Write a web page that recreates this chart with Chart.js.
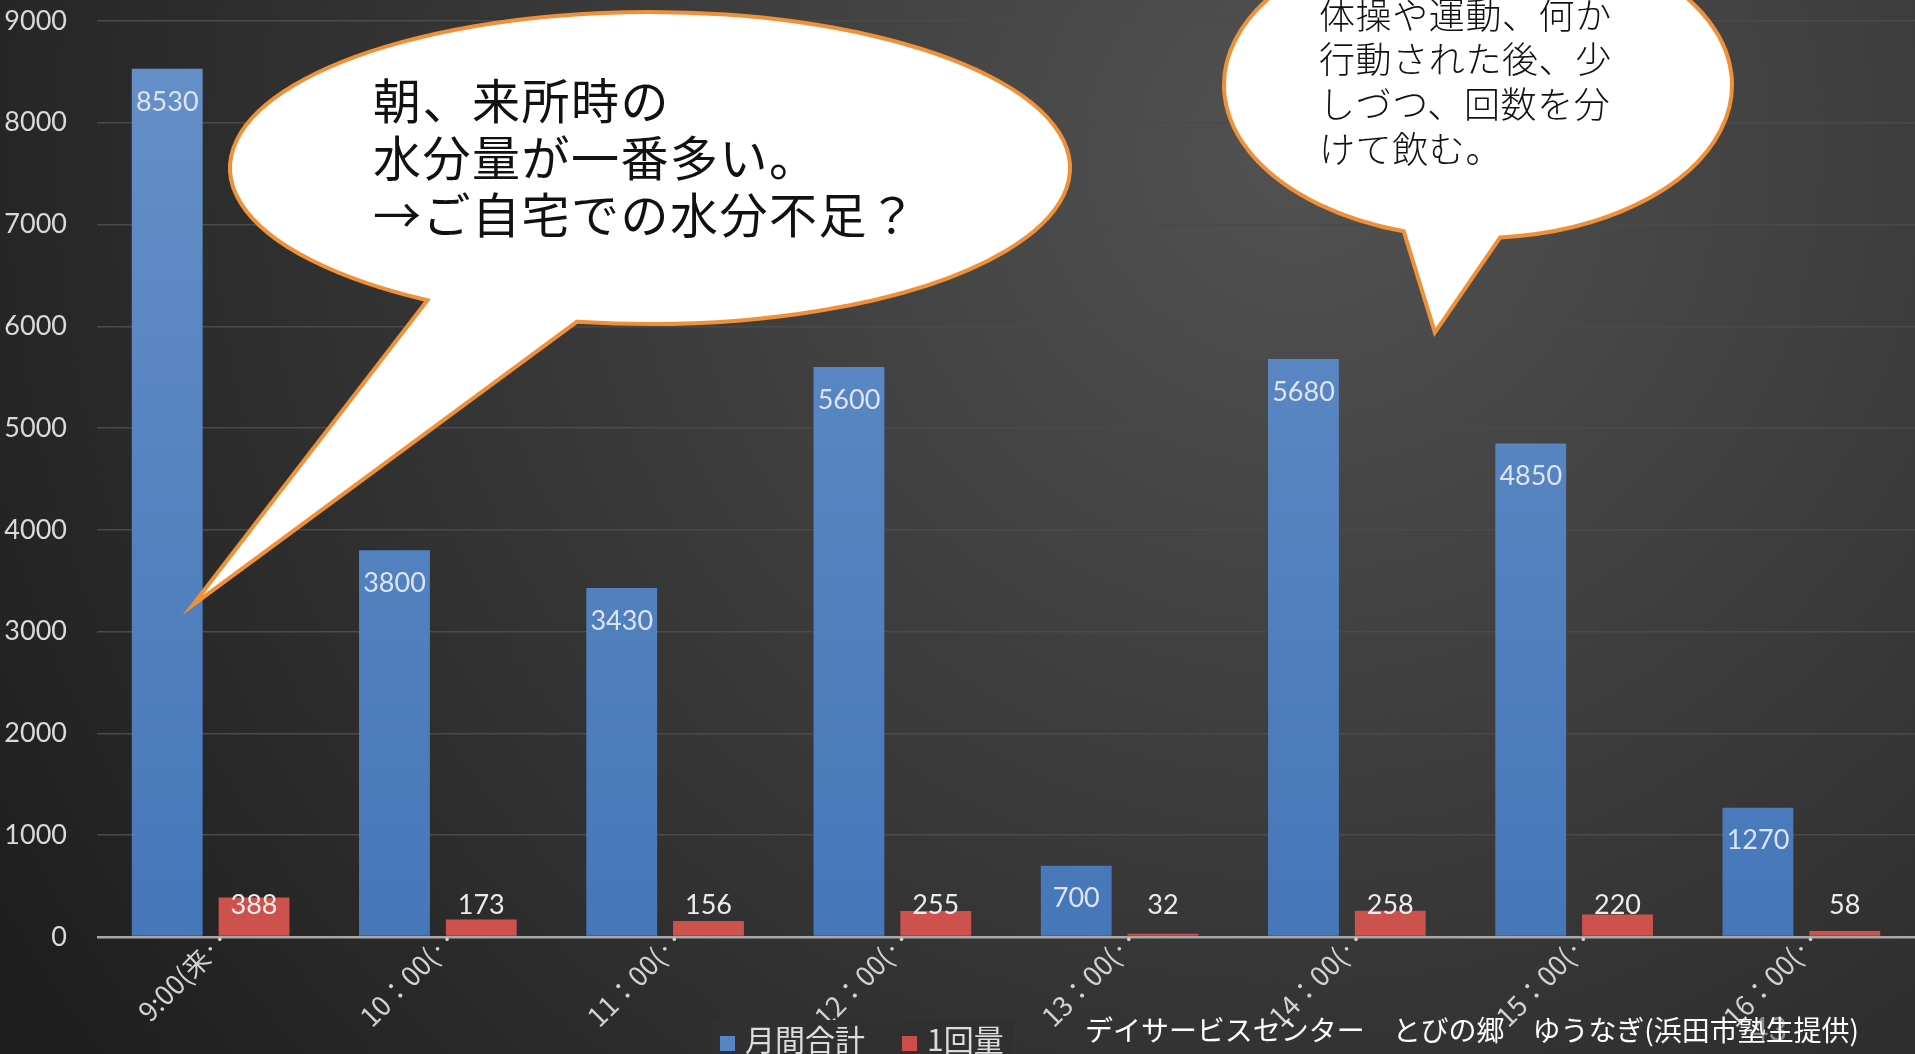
<!DOCTYPE html>
<html lang="ja">
<head>
<meta charset="UTF-8">
<title>水分量</title>
<script src="https://cdn.jsdelivr.net/npm/chart.js"></script>
<style>
    * { margin: 0; padding: 0; box-sizing: border-box; }
    body { background: #2a2a2a; width: 1915px; height: 1054px; overflow: hidden; }
    canvas { display: block; }
</style>
</head>
<body>
<canvas id="graphique" width="1915" height="1054"></canvas>
<script>
// données
const categories = ['9:00(来‥', '10：00(‥', '11：00(‥', '12：00(‥', '13：00(‥', '14：00(‥', '15：00(‥', '16：00(‥'];
const monthlyTotal = [8530, 3800, 3430, 5600, 700, 5680, 4850, 1270];
const perServing = [388, 173, 156, 255, 32, 258, 220, 58];
const seriesNames = ['月間合計', '1回量'];
const yMax = 9000;
const yStep = 1000;

const callouts = [
    { cat: 0, dx: -18, val: 3260, cx: 650, cy: 168, rx: 420, ry: 156, a1: 100, a2: 122,
      size: 48, weight: 400, spacing: 1.5, left: 373, top: 101, lh: 57,
      lines: ['朝、来所時の', '水分量が一番多い。', '→ご自宅での水分不足？'] },
    { cat: 5, dx: 88, val: 5940, cx: 1478, cy: 85, rx: 254, ry: 153, a1: 85, a2: 107,
      size: 36, weight: 300, spacing: 0.6, left: 1319, top: 15, lh: 44.8,
      lines: ['体操や運動、何か', '行動された後、少', 'しづつ、回数を分', 'けて飲む。'] }
];
const footerText = 'デイサービスセンター　とびの郷　ゆうなぎ(浜田市塾生提供)';

// fond dégradé
const fondPlugin = {
    id: 'fond',
    beforeDraw(chart) {
        const ctx = chart.ctx;
        const g = ctx.createRadialGradient(1300, 150, 0, 1300, 150, 1500);
        g.addColorStop(0, '#525252');
        g.addColorStop(1, '#1f1f1f');
        ctx.save();
        ctx.fillStyle = g;
        ctx.fillRect(0, 0, chart.width, chart.height);
        ctx.restore();
    }
};

// étiquettes de valeurs
const etiquettesPlugin = {
    id: 'etiquettes',
    afterDatasetsDraw(chart) {
        const ctx = chart.ctx;
        ctx.save();
        ctx.font = '27px Lato';
        ctx.textAlign = 'center';
        ctx.textBaseline = 'middle';
        chart.data.datasets.forEach((ds, i) => {
            const meta = chart.getDatasetMeta(i);
            meta.data.forEach((bar, j) => {
                const y = Math.min(bar.y + 33, bar.base - 30);
                ctx.fillStyle = i === 0 ? '#dde4ef' : '#ececec';
                ctx.fillText(String(ds.data[j]), bar.x, y);
            });
        });
        ctx.restore();
    }
};

function drawBubble(ctx, chart, b) {
    const tx = chart.scales.x.getPixelForValue(b.cat) + b.dx;
    const ty = chart.scales.y.getPixelForValue(b.val);
    const t1 = b.a1 * Math.PI / 180, t2 = b.a2 * Math.PI / 180;
    ctx.beginPath();
    ctx.ellipse(b.cx, b.cy, b.rx, b.ry, 0, t2, t1 + 2 * Math.PI);
    ctx.lineTo(tx, ty);
    ctx.closePath();
    ctx.fillStyle = '#ffffff';
    ctx.fill();
    ctx.lineWidth = 4;
    ctx.strokeStyle = '#f0913a';
    ctx.lineJoin = 'miter';
    ctx.stroke();

    ctx.fillStyle = '#111111';
    ctx.font = b.weight + ' ' + b.size + 'px "Noto Sans CJK JP"';
    ctx.letterSpacing = b.spacing + 'px';
    ctx.textAlign = 'left';
    ctx.textBaseline = 'middle';
    b.lines.forEach((l, k) => ctx.fillText(l, b.left, b.top + k * b.lh));
    ctx.letterSpacing = '0px';
}

// légende, bulles, pied de page
const decorPlugin = {
    id: 'decor',
    afterDraw(chart) {
        const ctx = chart.ctx;
        ctx.save();

        // légende
        ctx.fillStyle = '#303030';
        ctx.fillRect(712, 1020, 302, 34);
        ctx.font = '30px "Noto Sans CJK JP"';
        ctx.textBaseline = 'middle';
        ctx.textAlign = 'left';
        let x = 720;
        chart.data.datasets.forEach(ds => {
            ctx.fillStyle = ds.legendColor;
            ctx.fillRect(x, 1036, 15, 15);
            x += 25;
            ctx.fillStyle = '#dcdcdc';
            ctx.fillText(ds.label, x, 1040);
            x += ctx.measureText(ds.label).width + 37;
        });

        callouts.forEach(b => drawBubble(ctx, chart, b));

        // numéro de page + source
        ctx.fillStyle = '#8c8c8c';
        ctx.font = '32px Lato';
        ctx.fillText('43', 1750, 1031);
        ctx.fillStyle = '#ffffff';
        ctx.font = '28px "Noto Sans CJK JP"';
        ctx.fillText(footerText, 1085, 1030, 774);

        ctx.restore();
    }
};

const ctx1 = document.getElementById('graphique').getContext('2d');

new Chart(ctx1, {
    type: 'bar',
    data: {
        labels: categories,
        datasets: [{
            label: seriesNames[0],
            data: monthlyTotal,
            legendColor: '#5585c4',
            backgroundColor: (c) => {
                const area = c.chart.chartArea;
                if (!area) return '#5585c4';
                const g = c.chart.ctx.createLinearGradient(0, area.top, 0, area.bottom);
                g.addColorStop(0, '#6690c8');
                g.addColorStop(1, '#4577b9');
                return g;
            },
            categoryPercentage: 0.764,
            barPercentage: 0.816
        }, {
            label: seriesNames[1],
            data: perServing,
            legendColor: '#cc4e4b',
            backgroundColor: '#cd524e',
            categoryPercentage: 0.764,
            barPercentage: 0.816
        }]
    },
    options: {
        responsive: false,
        devicePixelRatio: 1,
        animation: false,
        layout: { autoPadding: false, padding: { top: 21, right: 0, bottom: 0, left: 0 } },
        plugins: {
            legend: { display: false },
            tooltip: { enabled: false }
        },
        scales: {
            x: {
                grid: { display: false },
                border: { display: false },
                ticks: {
                    color: '#d2d2d2',
                    font: { family: '"Noto Sans CJK JP"', size: 27 },
                    minRotation: 45,
                    maxRotation: 45,
                    autoSkip: false,
                    padding: -22,
                    labelOffset: 14
                },
                afterFit(scale) { scale.height = 117; }
            },
            y: {
                min: 0,
                max: yMax,
                border: { display: false },
                grid: {
                    drawTicks: false,
                    color: (c) => c.tick.value === 0 ? '#a8a8a8' : '#4a4a4a',
                    lineWidth: (c) => c.tick.value === 0 ? 2.5 : 1.5
                },
                ticks: {
                    stepSize: yStep,
                    color: '#dadada',
                    font: { family: 'Lato', size: 27 },
                    padding: 30,
                    callback: (v) => String(v)
                },
                afterFit(scale) {
                    scale.width = 97;
                    scale.paddingTop = 0;
                    scale.paddingBottom = 0;
                }
            }
        }
    },
    plugins: [fondPlugin, etiquettesPlugin, decorPlugin]
});
</script>
</body>
</html>
